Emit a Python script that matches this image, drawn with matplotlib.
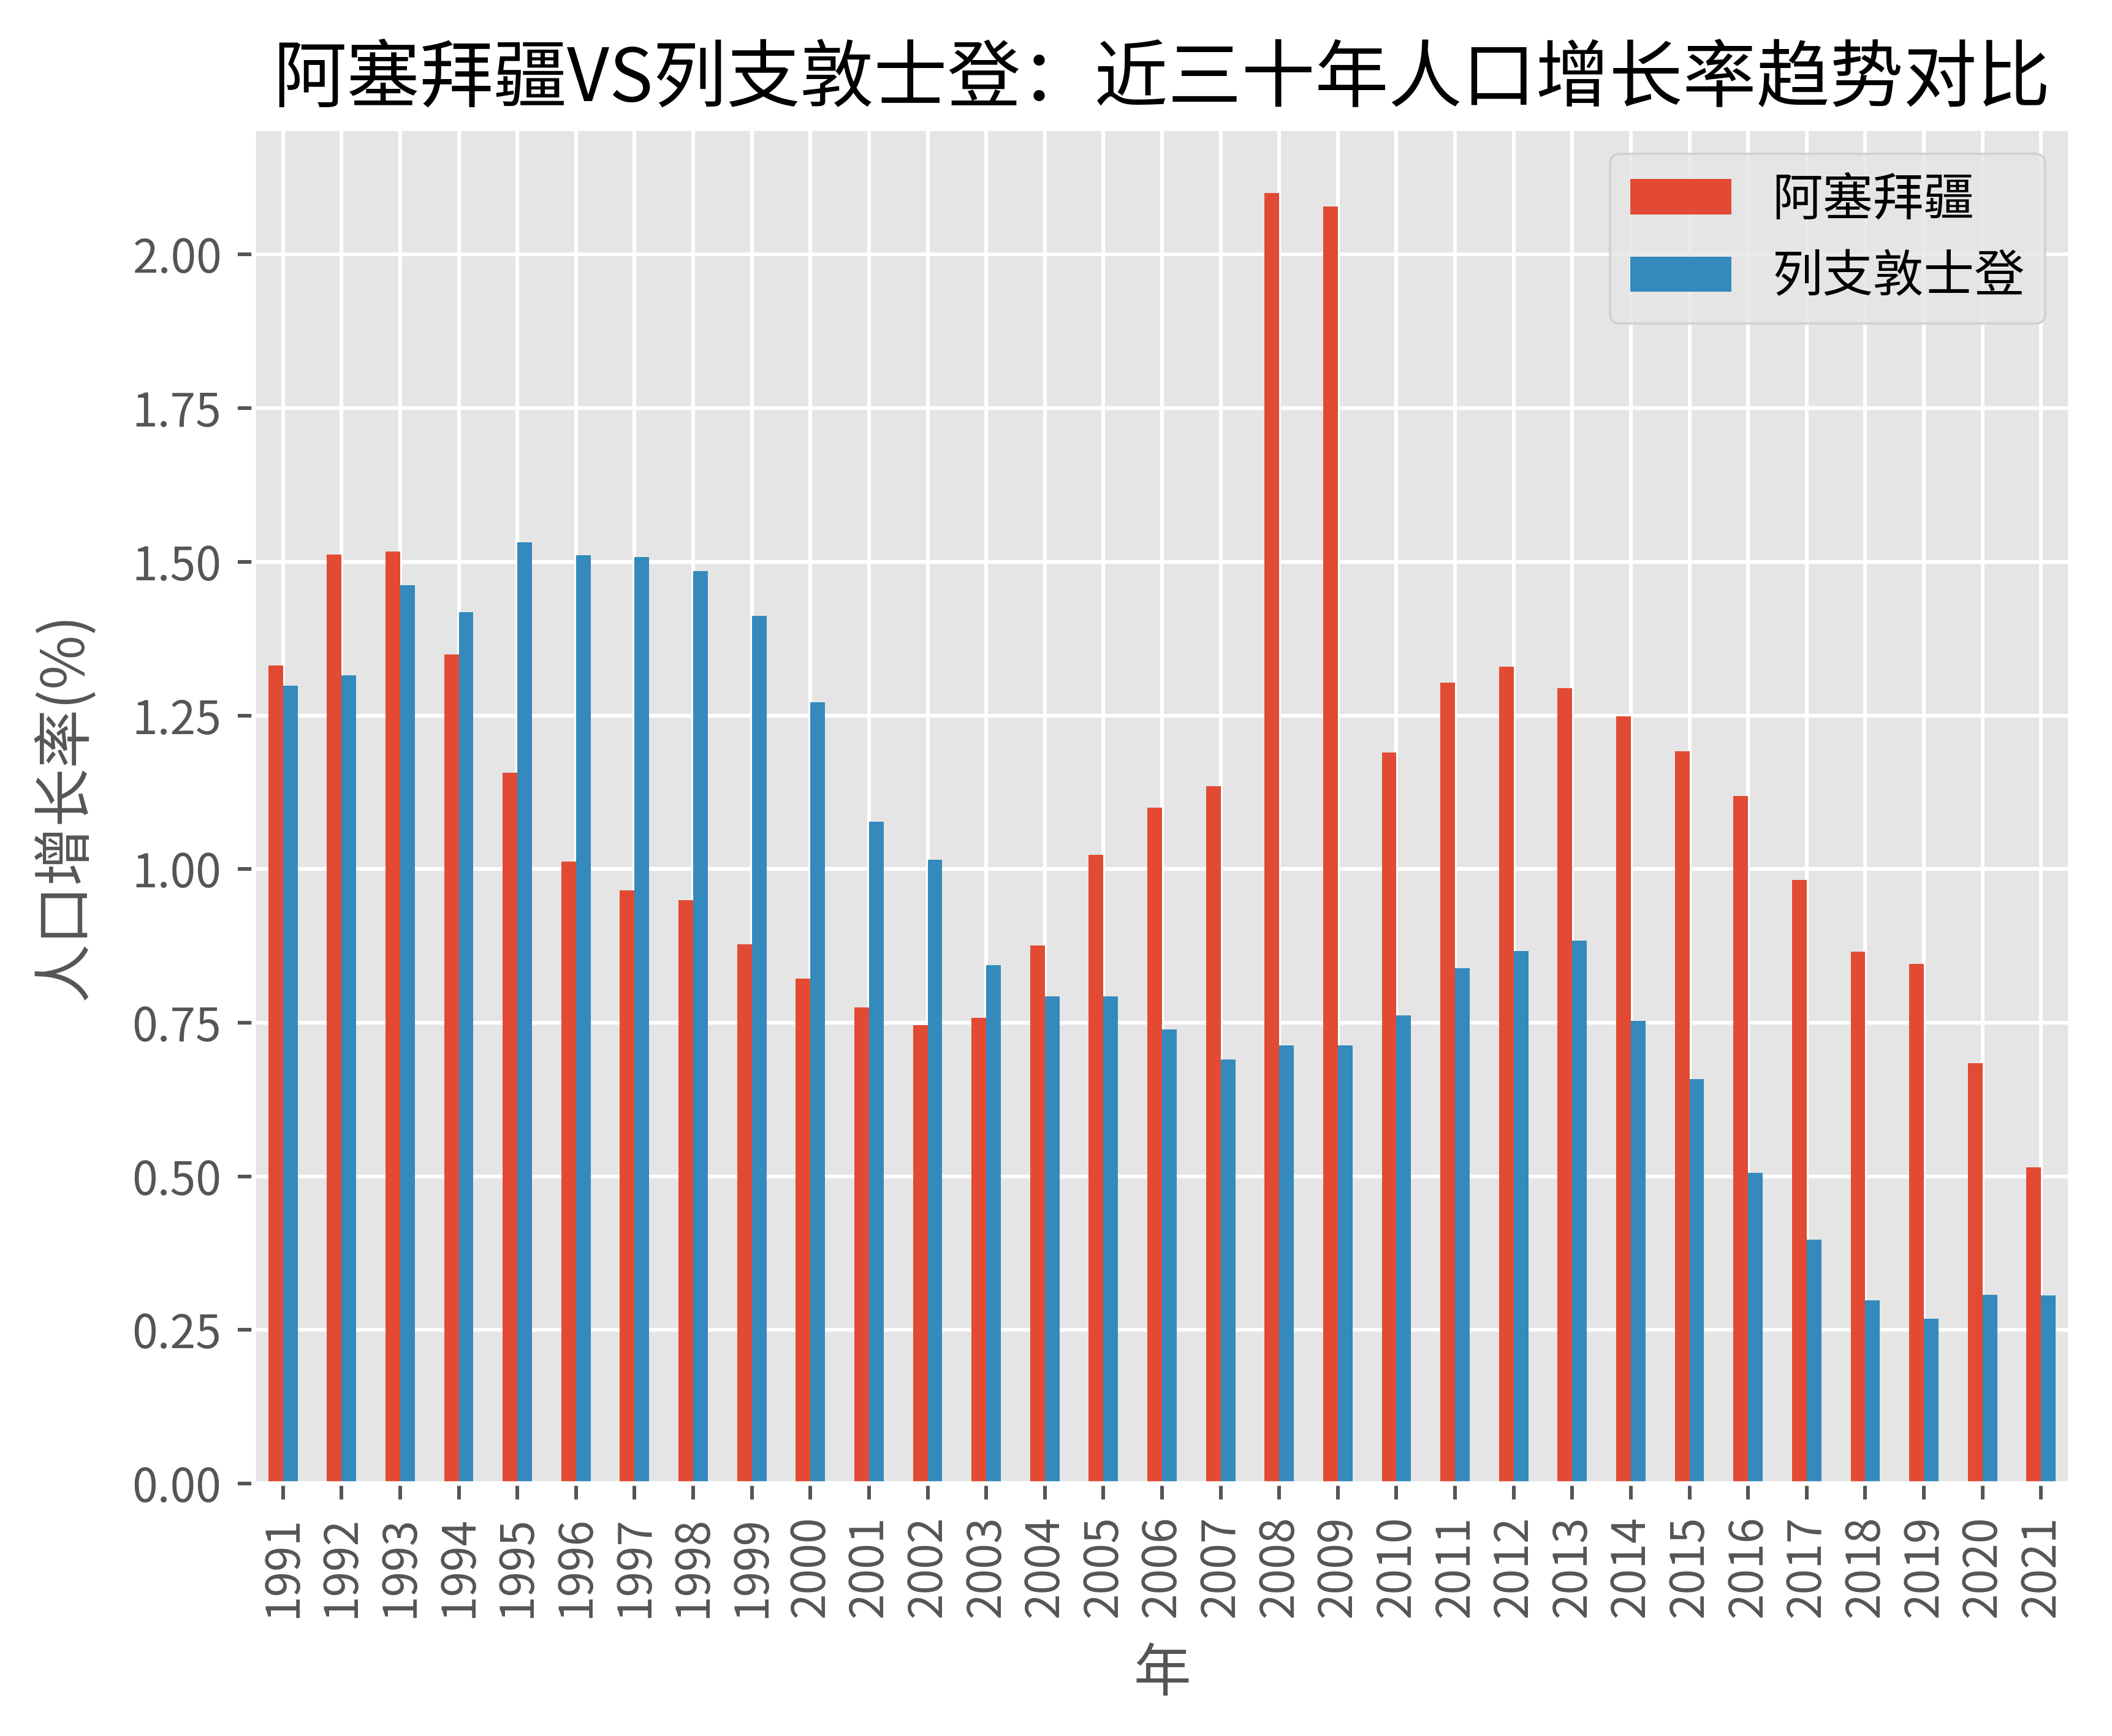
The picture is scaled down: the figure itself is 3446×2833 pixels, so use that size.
import matplotlib
matplotlib.use("Agg")
import matplotlib.pyplot as plt
import pandas as pd

years = list(range(1991, 2022))
azerbaijan = [1.331, 1.512, 1.517, 1.349, 1.157, 1.012, 0.965, 0.949, 0.878, 0.822,
              0.775, 0.746, 0.758, 0.876, 1.023, 1.100, 1.135, 2.100, 2.078, 1.190,
              1.303, 1.329, 1.294, 1.249, 1.192, 1.119, 0.982, 0.866, 0.846, 0.684,
              0.515]
liechtenstein = [1.298, 1.315, 1.462, 1.418, 1.532, 1.511, 1.508, 1.485, 1.412, 1.272,
                 1.077, 1.015, 0.844, 0.793, 0.793, 0.739, 0.690, 0.713, 0.713, 0.762,
                 0.839, 0.867, 0.884, 0.753, 0.658, 0.506, 0.397, 0.298, 0.268, 0.307,
                 0.306]
series_names = ["阿塞拜疆", "列支敦士登"]
title = "阿塞拜疆VS列支敦士登：近三十年人口增长率趋势对比"
xlabel = "年"
ylabel = "人口增长率(%)"

plt.style.use("ggplot")
plt.rcParams["font.family"] = ["Noto Sans CJK SC", "DejaVu Sans"]
plt.rcParams["axes.unicode_minus"] = False

df = pd.DataFrame({series_names[0]: azerbaijan, series_names[1]: liechtenstein},
                  index=years)

dpi = 540
fig = plt.figure(figsize=(3446 / dpi, 2833 / dpi), dpi=dpi)
ax = fig.add_axes([0.1201, 0.1454, 0.8602, 0.7805])
df.plot(kind="bar", ax=ax)
ax.set_title(title, color="black", fontsize=16)
ax.set_xlabel(xlabel, fontsize=12.5, labelpad=6)
ax.set_ylabel(ylabel, fontsize=12.8, labelpad=8)
ax.legend(loc="upper right", fontsize=11)
ax.yaxis.set_major_formatter(matplotlib.ticker.FormatStrFormatter("%.2f"))

fig.savefig("out.png", dpi=dpi)
